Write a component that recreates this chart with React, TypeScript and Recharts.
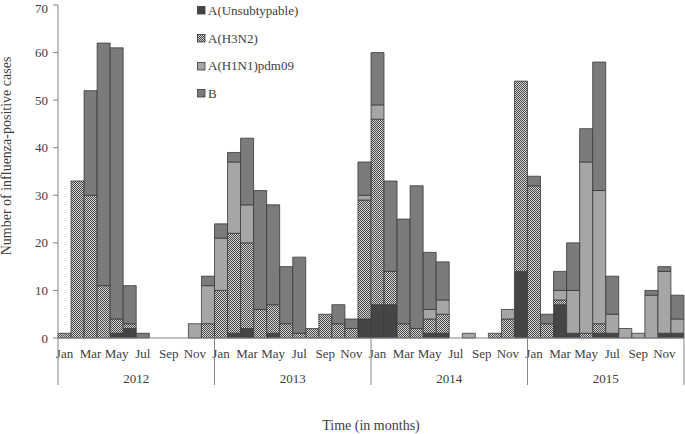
import React from "react";
import { BarChart, Bar, XAxis, YAxis, Legend } from "recharts";

const monthNames = ["Jan", "Feb", "Mar", "Apr", "May", "Jun", "Jul", "Aug", "Sep", "Oct", "Nov", "Dec"];
const years = ["2012", "2013", "2014", "2015"];

// monthly counts, Jan 2012 .. Dec 2015
const unsubtypable = [
  0, 0, 0, 0, 1, 2, 0, 0, 0, 0, 0, 0,
  0, 1, 2, 0, 1, 0, 0, 0, 0, 0, 0, 4,
  7, 7, 0, 0, 1, 1, 0, 0, 0, 0, 0, 14,
  0, 0, 7, 1, 0, 1, 1, 0, 0, 0, 1, 1,
];
const h3n2 = [
  1, 33, 30, 11, 3, 1, 0, 0, 0, 0, 0, 3,
  10, 21, 18, 6, 6, 3, 1, 2, 5, 3, 2, 25,
  39, 7, 3, 2, 3, 4, 0, 0, 0, 1, 4, 40,
  32, 3, 1, 0, 1, 2, 0, 0, 0, 0, 0, 0,
];
const h1n1 = [
  0, 0, 0, 0, 0, 0, 0, 0, 0, 0, 3, 8,
  11, 15, 8, 0, 0, 0, 0, 0, 0, 0, 0, 1,
  3, 0, 0, 0, 2, 3, 0, 1, 0, 0, 2, 0,
  0, 0, 2, 9, 36, 28, 4, 2, 1, 9, 13, 3,
];
const fluB = [
  0, 0, 22, 51, 57, 8, 1, 0, 0, 0, 0, 2,
  3, 2, 14, 25, 21, 12, 16, 0, 0, 4, 2, 7,
  11, 19, 22, 30, 12, 8, 0, 0, 0, 0, 0, 0,
  2, 2, 4, 10, 7, 27, 8, 0, 0, 1, 1, 5,
];
const yTicks = [0, 10, 20, 30, 40, 50, 60, 70];

const data = unsubtypable.map((v, i) => ({
  key: `${years[Math.floor(i / 12)]}-${i % 12}`,
  unsub: v,
  h3n2: h3n2[i],
  h1n1: h1n1[i],
  b: fluB[i],
}));

const FONT = "'Liberation Serif', 'Times New Roman', serif";
const TEXT = "#404040";
const AXIS = "#858585";
const EDGE = "#3a3a3a";

const series = [
  { key: "unsub", name: "A(Unsubtypable)", fill: "#454545" },
  { key: "h3n2", name: "A(H3N2)", fill: "url(#h3n2)" },
  { key: "h1n1", name: "A(H1N1)pdm09", fill: "#a6a6a6" },
  { key: "b", name: "B", fill: "#7b7b7b" },
];

const MonthTick = (props: any) => {
  const { x, y, payload } = props;
  const idx: number = payload.index;
  const half: number = payload.offset || 6.52;
  const m = idx % 12;
  return (
    <g>
      {m % 2 === 0 && (
        <text x={x} y={y + 20} textAnchor="middle" fontSize={13} fontFamily={FONT} fill={TEXT}>
          {monthNames[m]}
        </text>
      )}
      {m === 0 && (
        <>
          <line x1={x - half} x2={x - half} y1={y} y2={y + 47} stroke={AXIS} />
          <text x={x - half + 12 * half} y={y + 45} textAnchor="middle" fontSize={13} fontFamily={FONT} fill={TEXT}>
            {years[Math.floor(idx / 12)]}
          </text>
        </>
      )}
      {idx === data.length - 1 && (
        <line x1={x + half} x2={x + half} y1={y} y2={y + 47} stroke={AXIS} />
      )}
    </g>
  );
};

const LegendBox = () => (
  <div style={{ fontFamily: FONT, fontSize: 13, color: TEXT }}>
    {series.map((s) => (
      <div key={s.key} style={{ display: "flex", alignItems: "center", height: 27.7 }}>
        <svg width={9} height={9} style={{ marginRight: 2 }}>
          <rect x={0.5} y={0.5} width={7.5} height={7.5} fill={s.fill} stroke={EDGE} strokeWidth={0.8} />
        </svg>
        <span>{s.name}</span>
      </div>
    ))}
  </div>
);

export default function App() {
  return (
    <div style={{ position: "absolute", left: 0, top: 0, width: 685, height: 434, background: "#fff" }}>
      <BarChart
        width={685}
        height={434}
        data={data}
        margin={{ top: 5, right: 1, bottom: 0, left: 0 }}
        barCategoryGap={0}
        barGap={0}
      >
        <defs>
          <pattern id="h3n2" width="2" height="2" patternUnits="userSpaceOnUse">
            <rect width="2" height="2" fill="#d4d4d4" />
            <rect width="1" height="1" fill="#484848" />
            <rect x="1" y="1" width="1" height="1" fill="#484848" />
          </pattern>
        </defs>
        <XAxis
          dataKey="key"
          height={96}
          interval={0}
          tickLine={false}
          tickSize={0}
          tickMargin={0}
          axisLine={{ stroke: AXIS }}
          tick={<MonthTick />}
          label={() => (
            <text x={371} y={430} textAnchor="middle" fontSize={14} fontFamily={FONT} fill={TEXT}>
              Time (in months)
            </text>
          )}
        />
        <YAxis
          width={58}
          domain={[0, 70]}
          ticks={yTicks}
          tickSize={5}
          tickMargin={5}
          tickLine={{ stroke: AXIS }}
          axisLine={{ stroke: AXIS }}
          tick={{ fontSize: 13, fontFamily: FONT, fill: TEXT }}
          label={() => (
            <text
              transform="translate(11,156) rotate(-90)"
              textAnchor="middle"
              fontSize={14}
              fontFamily={FONT}
              fill={TEXT}
            >
              Number of influenza-positive cases
            </text>
          )}
        />
        <Legend
          layout="vertical"
          align="center"
          verticalAlign="middle"
          content={<LegendBox />}
          wrapperStyle={{ left: 197, top: -3, width: 160 }}
        />
        {series.map((s) => (
          <Bar
            key={s.key}
            dataKey={s.key}
            name={s.name}
            stackId="flu"
            fill={s.fill}
            stroke={EDGE}
            strokeWidth={0.8}
            isAnimationActive={false}
          />
        ))}
      </BarChart>
    </div>
  );
}
